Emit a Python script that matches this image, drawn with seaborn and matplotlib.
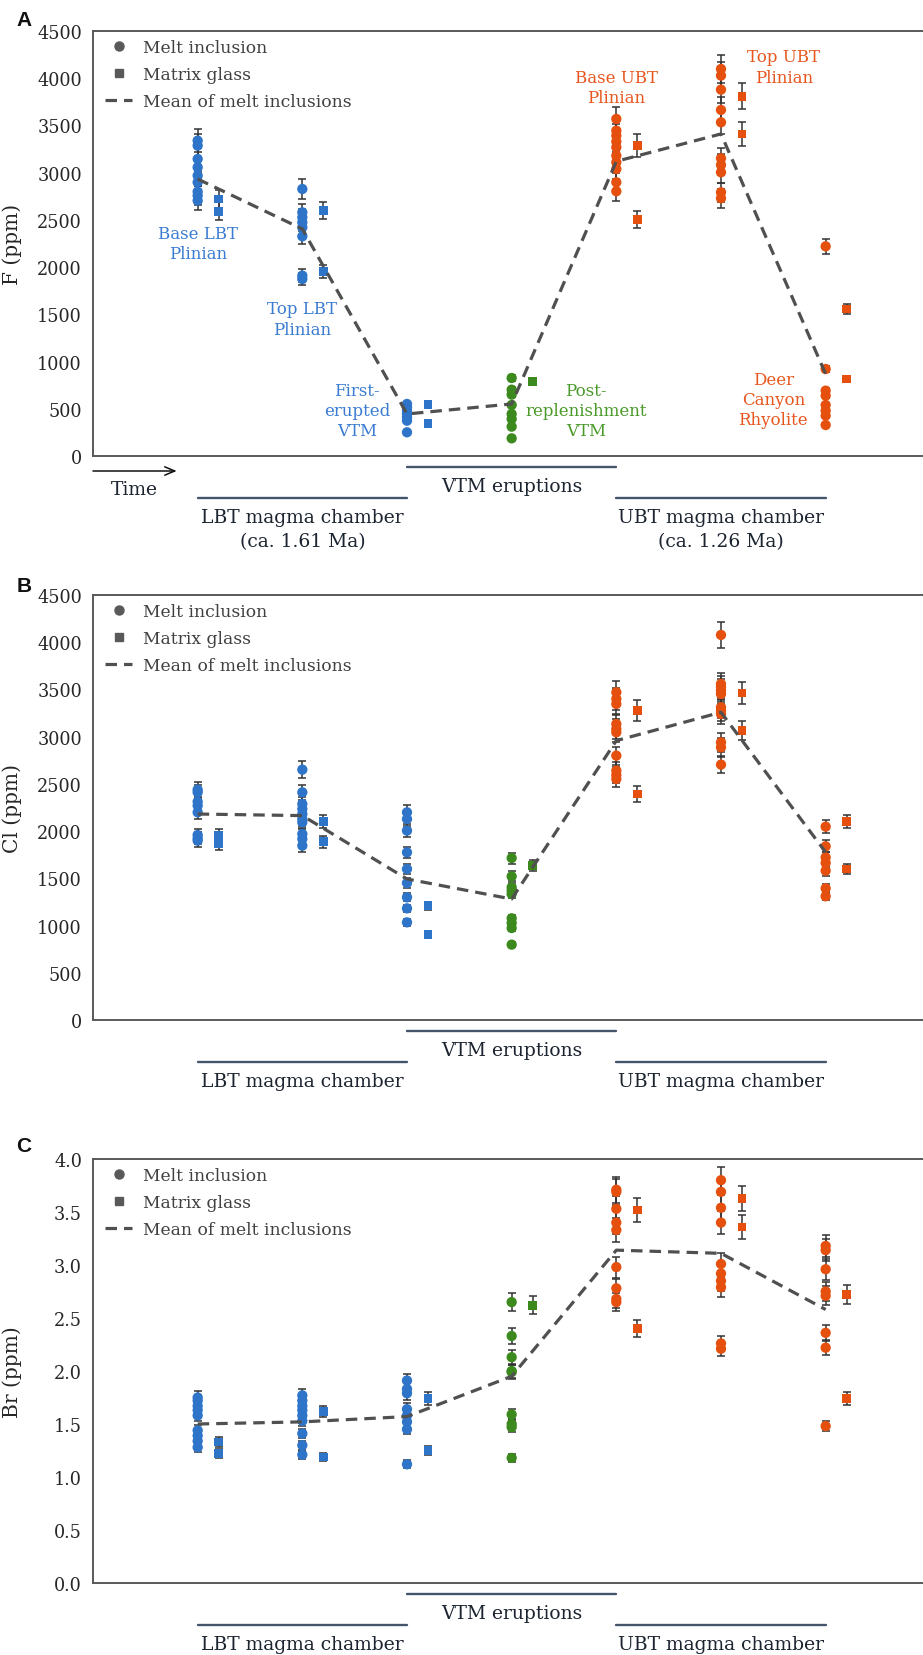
"""
Volatile (F, Cl, Br) contents of melt inclusions and matrix glass
through the LBT -> VTM -> UBT eruptive sequence.
"""
import numpy as np
import pandas as pd
import matplotlib
matplotlib.use("Agg")
import matplotlib.pyplot as plt
from matplotlib.lines import Line2D
import seaborn as sns

sns.set_theme(style="white")
plt.rcParams["font.family"] = ["DejaVu Serif"]

# ── Data ─────────────────────────────────────────────────────
GROUPS = ["Base LBT", "Top LBT", "First-erupted VTM", "Post-replenishment VTM",
          "Base UBT", "Top UBT", "Deer Canyon"]
GROUP_COLORS = ["#2E74C8", "#2E74C8", "#2E74C8", "#3C8A1E",
                "#E6500E", "#E6500E", "#E6500E"]

# F (ppm)
f_mi = [
    [3339, 3286, 3145, 3057, 2969, 2898, 2799, 2757, 2704],
    [2827, 2580, 2527, 2474, 2421, 2326, 1910, 1874],
    [551, 516, 480, 445, 409, 374, 251],
    [826, 702, 650, 540, 445, 392, 311, 187],
    [3569, 3445, 3392, 3329, 3269, 3180, 3110, 3039, 2898, 2803],
    [4098, 4028, 3879, 3664, 3533, 3152, 3082, 3004, 2792, 2729],
    [2220, 921, 692, 639, 540, 480, 427, 328],
]
f_mg = [[2721, 2591], [2598, 1952], [544, 346], [791],
        [3286, 2502], [3809, 3410], [1557, 815]]
f_mean = [2933, 2404, 445, 551, 3120, 3410, 868]

# Cl (ppm)
cl_mi = [
    [2439, 2411, 2312, 2270, 2199, 1959, 1924, 1899],
    [2651, 2411, 2287, 2234, 2181, 2128, 2093, 1970, 1917, 1846],
    [2199, 2128, 2005, 1775, 1599, 1451, 1299, 1182, 1034],
    [1715, 1521, 1405, 1370, 1334, 1077, 1027, 974, 798],
    [3470, 3399, 3346, 3134, 3082, 3046, 2799, 2640, 2594, 2552],
    [4077, 3558, 3523, 3488, 3452, 3311, 3276, 3240, 2940, 2887, 2704],
    [2047, 1839, 1722, 1663, 1581, 1394, 1310],
]
cl_mg = [[1952, 1864], [2100, 1888], [1211, 904], [1634],
         [3276, 2393], [3463, 3064], [2100, 1599]]
cl_mean = [2181, 2164, 1493, 1281, 2958, 3258, 1776]

# Br (ppm)
br_mi = [
    [1.75, 1.72, 1.67, 1.63, 1.58, 1.44, 1.39, 1.34, 1.28],
    [1.77, 1.72, 1.67, 1.63, 1.58, 1.53, 1.41, 1.30, 1.21],
    [1.91, 1.83, 1.79, 1.64, 1.58, 1.52, 1.45, 1.12],
    [2.65, 2.33, 2.13, 2.00, 1.99, 1.59, 1.50, 1.47, 1.18],
    [3.71, 3.69, 3.53, 3.40, 3.33, 2.98, 2.78, 2.68, 2.65],
    [3.80, 3.69, 3.54, 3.40, 3.01, 2.92, 2.85, 2.79, 2.26, 2.21],
    [3.18, 3.14, 2.96, 2.75, 2.71, 2.36, 2.22, 1.48],
]
br_mg = [[1.33, 1.22], [1.62, 1.19], [1.74, 1.25], [2.62],
         [3.52, 2.40], [3.63, 3.36], [2.72, 1.74]]
br_mean = [1.50, 1.52, 1.57, 1.95, 3.14, 3.11, 2.58]

# relative analytical uncertainty (1 sigma) per element
F_REL_ERR = 0.036
CL_REL_ERR = 0.034
BR_REL_ERR = 0.033

# ── Styling ──────────────────────────────────────────────────
FIG_W, FIG_H = 923, 1656
AX_LEFT, AX_H = 93, 425
MG_OFFSET = 0.2
SPINE = "#595959"
TEXT = "#262626"
ERA_LINE = "#44546A"
MEAN_COLOR = "#505050"
MEAN_DASH = (3.6, 2.2)


def build_frame(mi, mg, rel_err):
    rows = []
    for i, (g, vals) in enumerate(zip(GROUPS, mi)):
        for v in vals:
            rows.append({"group": g, "x": i + 1, "value": v, "kind": "MI"})
    for i, (g, vals) in enumerate(zip(GROUPS, mg)):
        for v in vals:
            rows.append({"group": g, "x": i + 1 + MG_OFFSET, "value": v, "kind": "MG"})
    df = pd.DataFrame(rows)
    df["err"] = df["value"] * rel_err
    return df


def yb(px):
    # pixels below the x axis -> axes fraction
    return -px / AX_H


def draw_panel(ax, mi, mg, means, rel_err, ylim, yticks, ylabel, fmt):
    df = build_frame(mi, mg, rel_err)
    palette = dict(zip(GROUPS, GROUP_COLORS))

    ax.errorbar(df["x"], df["value"], yerr=df["err"], fmt="none",
                ecolor="#333333", elinewidth=1.1, capsize=2.6,
                capthick=1.1, zorder=2)
    sns.scatterplot(data=df[df["kind"] == "MI"], x="x", y="value", hue="group",
                    palette=palette, marker="o", s=55, linewidth=0,
                    legend=False, ax=ax, zorder=3)
    sns.scatterplot(data=df[df["kind"] == "MG"], x="x", y="value", hue="group",
                    palette=palette, marker="s", s=38, linewidth=0,
                    legend=False, ax=ax, zorder=3)
    sns.lineplot(x=np.arange(1, len(means) + 1), y=means, color=MEAN_COLOR,
                 lw=2.3, ax=ax, zorder=4)
    ax.lines[-1].set_dashes(MEAN_DASH)

    ax.set_xlim(0, 7.93)
    ax.set_ylim(*ylim)
    ax.set_yticks(yticks)
    ax.set_yticklabels([fmt.format(t) for t in yticks])
    ax.set_xticks([])
    ax.set_xlabel("")
    ax.set_ylabel(ylabel, fontsize=14.5, color=TEXT)
    ax.yaxis.set_label_coords(-0.0855, 0.5)
    ax.tick_params(axis="y", length=0, pad=8, labelsize=12.7, labelcolor=TEXT)
    ax.spines["right"].set_visible(False)
    for side in ("left", "top", "bottom"):
        ax.spines[side].set_color(SPINE)
        ax.spines[side].set_linewidth(1.4)

    handles = [
        Line2D([], [], ls="none", marker="o", color="#595959", ms=6.5),
        Line2D([], [], ls="none", marker="s", color="#595959", ms=5.5),
        Line2D([], [], color=MEAN_COLOR, lw=2.3, dashes=MEAN_DASH),
    ]
    ax.legend(handles, ["Melt inclusion", "Matrix glass", "Mean of melt inclusions"],
              loc="upper left", bbox_to_anchor=(0.0145, 0.982), frameon=False,
              fontsize=12.3, handlelength=1.6, handletextpad=0.6,
              labelspacing=0.6, borderpad=0, borderaxespad=0,
              labelcolor="#404040")


def draw_eras(ax, full):
    tr = ax.get_xaxis_transform()
    kw = dict(transform=tr, clip_on=False, color=ERA_LINE, lw=1.7)
    ax.plot([1, 3], [yb(42)] * 2, **kw)
    ax.plot([3, 5], [yb(11)] * 2, **kw)
    ax.plot([5, 7], [yb(42)] * 2, **kw)
    tkw = dict(transform=tr, ha="center", va="center", fontsize=13.5, color="#1C2430")
    ax.text(2, yb(61), "LBT magma chamber", **tkw)
    ax.text(4, yb(30), "VTM eruptions", **tkw)
    ax.text(6, yb(61), "UBT magma chamber", **tkw)
    if full:
        ax.text(2, yb(85), "(ca. 1.61 Ma)", **tkw)
        ax.text(6, yb(85), "(ca. 1.26 Ma)", **tkw)
        ax.annotate("", xy=(0.8, yb(15)), xytext=(0.0, yb(15)),
                    xycoords=tr, textcoords=tr,
                    arrowprops=dict(arrowstyle="->,head_width=0.25,head_length=0.6",
                                    color="#111111", lw=1.1,
                                    shrinkA=0, shrinkB=0))
        ax.text(0.4, yb(33), "Time", **tkw)


fig = plt.figure(figsize=(FIG_W / 100, FIG_H / 100), dpi=100)
ax_w = (FIG_W - AX_LEFT) / FIG_W
ax_h = AX_H / FIG_H
axA = fig.add_axes([AX_LEFT / FIG_W, 1 - 457 / FIG_H, ax_w, ax_h])
axB = fig.add_axes([AX_LEFT / FIG_W, 1 - 1021 / FIG_H, ax_w, ax_h])
axC = fig.add_axes([AX_LEFT / FIG_W, 1 - 1584 / FIG_H, ax_w, 424 / FIG_H])

ppm_ticks = list(range(0, 4501, 500))
draw_panel(axA, f_mi, f_mg, f_mean, F_REL_ERR, (0, 4500), ppm_ticks, "F (ppm)", "{:.0f}")
draw_panel(axB, cl_mi, cl_mg, cl_mean, CL_REL_ERR, (0, 4500), ppm_ticks, "Cl (ppm)", "{:.0f}")
draw_panel(axC, br_mi, br_mg, br_mean, BR_REL_ERR, (0, 4.0),
           [0, 0.5, 1.0, 1.5, 2.0, 2.5, 3.0, 3.5, 4.0], "Br (ppm)", "{:.1f}")

draw_eras(axA, True)
draw_eras(axB, False)
draw_eras(axC, False)

# sample labels in panel A
BLUE_T, GREEN_T, ORANGE_T = "#3A7CD2", "#4A9A2A", "#E8561E"
lab = dict(ha="center", va="center", fontsize=12, linespacing=1.25)
axA.text(1.0, 2250, "Base LBT\nPlinian", color=BLUE_T, **lab)
axA.text(2.0, 1450, "Top LBT\nPlinian", color=BLUE_T, **lab)
axA.text(2.52, 480, "First-\nerupted\nVTM", color=BLUE_T, **lab)
axA.text(4.71, 480, "Post-\nreplenishment\nVTM", color=GREEN_T, **lab)
axA.text(5.0, 3900, "Base UBT\nPlinian", color=ORANGE_T, **lab)
axA.text(6.6, 4120, "Top UBT\nPlinian", color=ORANGE_T, **lab)
axA.text(6.5, 600, "Deer\nCanyon\nRhyolite", color=ORANGE_T, **lab)

# panel letters
for letter, ypx in (("A", 21), ("B", 587), ("C", 1147)):
    fig.text(24 / FIG_W, 1 - ypx / FIG_H, letter, ha="center", va="center",
             fontsize=15, fontweight="bold", family=["Liberation Sans", "DejaVu Sans"],
             color="#111111")

fig.savefig("out.png", dpi=100)
